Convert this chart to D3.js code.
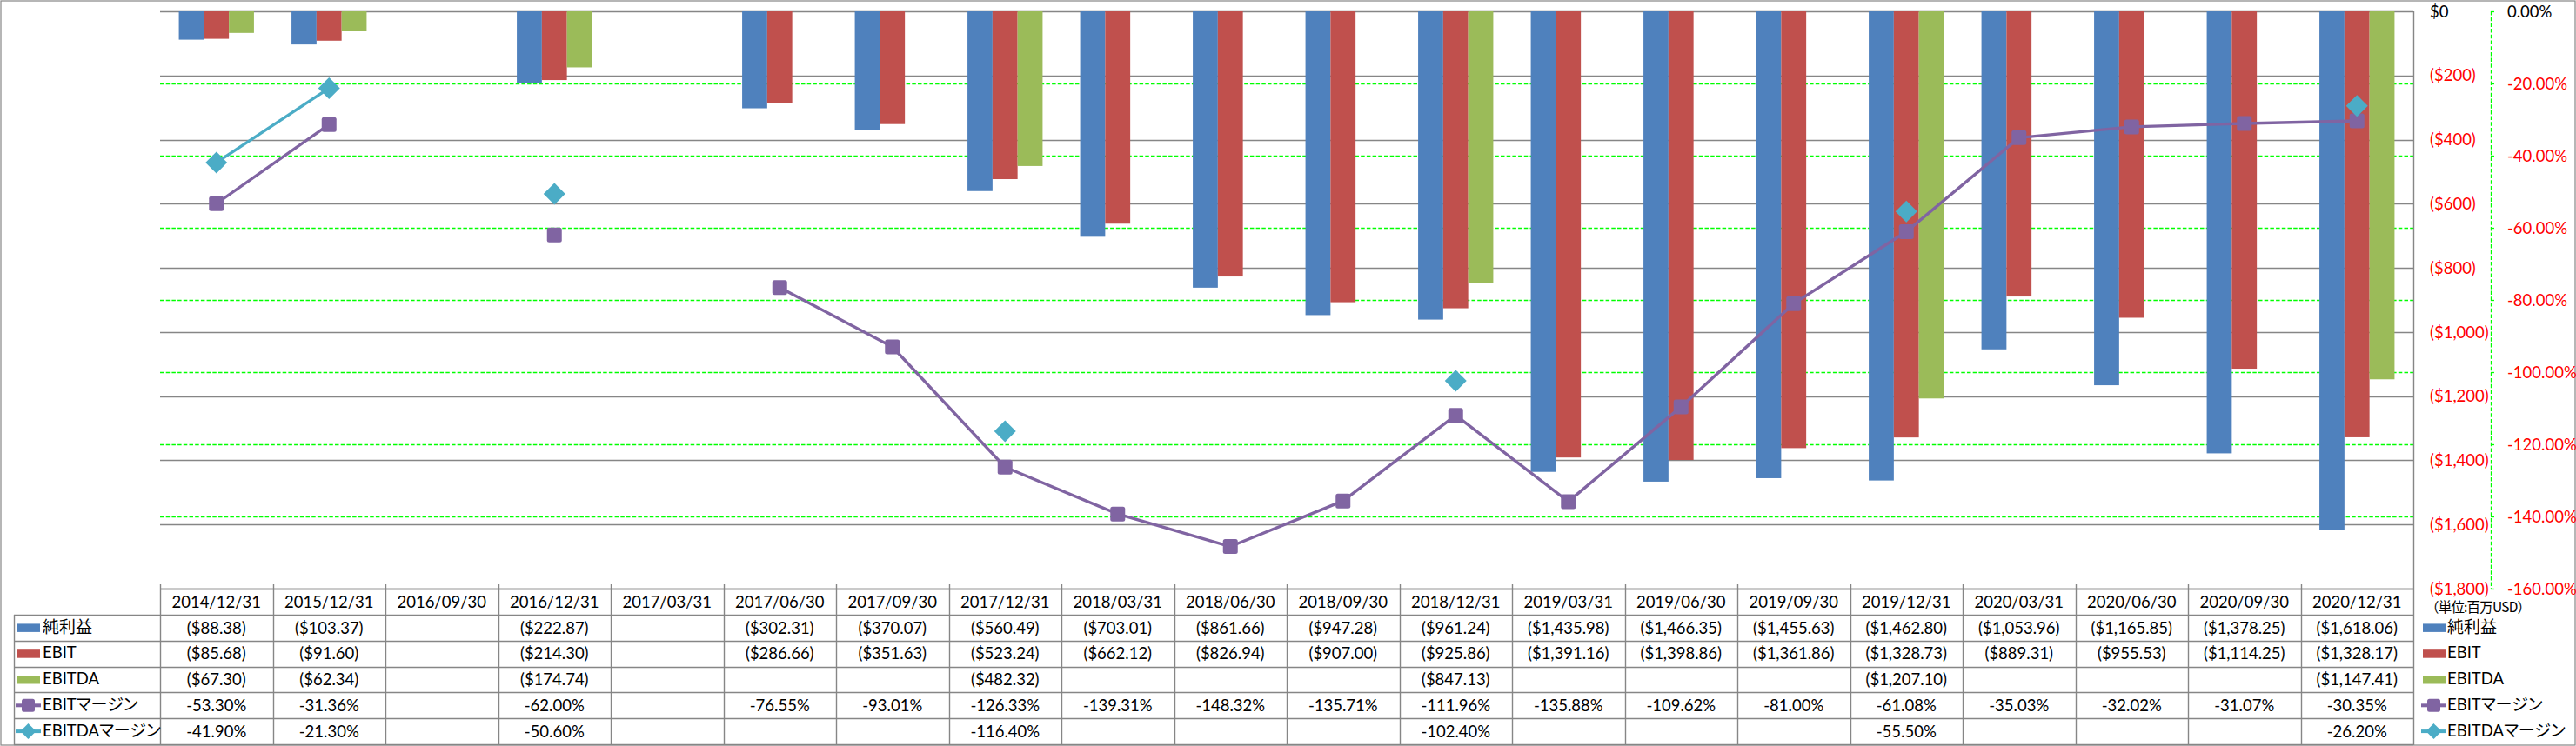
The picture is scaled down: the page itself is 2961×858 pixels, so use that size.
<!DOCTYPE html>
<html><head><meta charset="utf-8">
<script src="https://cdn.jsdelivr.net/npm/d3@7/dist/d3.min.js"></script>
<style>body{margin:0;background:#fff}svg{display:block}.cjk{font-feature-settings:"palt" 1}</style>
</head><body><svg id="c" width="2961" height="858"></svg>
<script>
const categories = ["2014/12/31","2015/12/31","2016/09/30","2016/12/31","2017/03/31","2017/06/30","2017/09/30","2017/12/31","2018/03/31","2018/06/30","2018/09/30","2018/12/31","2019/03/31","2019/06/30","2019/09/30","2019/12/31","2020/03/31","2020/06/30","2020/09/30","2020/12/31"];
const netIncome = [-88.38,-103.37,null,-222.87,null,-302.31,-370.07,-560.49,-703.01,-861.66,-947.28,-961.24,-1435.98,-1466.35,-1455.63,-1462.80,-1053.96,-1165.85,-1378.25,-1618.06];
const ebit = [-85.68,-91.60,null,-214.30,null,-286.66,-351.63,-523.24,-662.12,-826.94,-907.00,-925.86,-1391.16,-1398.86,-1361.86,-1328.73,-889.31,-955.53,-1114.25,-1328.17];
const ebitda = [-67.30,-62.34,null,-174.74,null,null,null,-482.32,null,null,null,-847.13,null,null,null,-1207.10,null,null,null,-1147.41];
const ebitMargin = [-53.30,-31.36,null,-62.00,null,-76.55,-93.01,-126.33,-139.31,-148.32,-135.71,-111.96,-135.88,-109.62,-81.00,-61.08,-35.03,-32.02,-31.07,-30.35];
const ebitdaMargin = [-41.90,-21.30,null,-50.60,null,null,null,-116.40,null,null,null,-102.40,null,null,null,-55.50,null,null,null,-26.20];
const leftTicks = [0,-200,-400,-600,-800,-1000,-1200,-1400,-1600,-1800];
const rightTicks = [0,-20,-40,-60,-80,-100,-120,-140,-160];
const seriesNames = ["純利益","EBIT","EBITDA","EBITマージン","EBITDAマージン"];
const seriesColors = ["#4F81BD","#C0504D","#9BBB59","#8064A2","#4BACC6"];
const unitLabel = "（単位:百万USD）";

const svg = d3.select("#c");
const FONT = "Lato, 'Noto Sans', 'Noto Sans CJK JP', sans-serif";
const CJK = "'Noto Sans CJK JP', sans-serif";
const GRID = "#868686";
const FS = 18.5;

const pLeft = 184, pRight = 2774, pTop = 13, pBottom = 677;
const x0 = d3.scaleBand().domain(categories).range([pLeft, pRight]);
const x1 = d3.scaleBand().domain([0,1,2]).range([0, x0.bandwidth()]).paddingInner(0).paddingOuter(0.75);
const y = d3.scaleLinear().domain([-1800, 0]).range([pBottom, pTop]);
const y2 = d3.scaleLinear().domain([-160, 0]).range([pBottom, pTop]);
const cx = c => x0(c) + x0.bandwidth()/2;

function richText(sel, str, size, cjkSize) {
  const parts = str.split(/([\u3000-\u30ff\u4e00-\u9fff\uff00-\uffef]+)/).filter(s => s.length);
  parts.forEach(p => {
    const isCjk = /[\u3000-\u30ff\u4e00-\u9fff\uff00-\uffef]/.test(p);
    const ts = sel.append("tspan").text(p)
      .attr("font-family", isCjk ? CJK : FONT)
      .attr("font-size", isCjk ? cjkSize : size);
    if (isCjk) ts.attr("class", "cjk");
  });
}

svg.append("rect").attr("x",1).attr("y",1).attr("width",2959).attr("height",856)
  .attr("fill","#fff").attr("stroke",GRID).attr("stroke-width",1.2);

svg.append("g").selectAll("line").data(leftTicks).join("line")
  .attr("x1", pLeft).attr("x2", pRight)
  .attr("y1", d => Math.round(y(d))+0.5).attr("y2", d => Math.round(y(d))+0.5)
  .attr("stroke", GRID).attr("stroke-width", 1.4);
svg.append("g").selectAll("line").data(rightTicks.filter(d => d !== 0 && d !== -160)).join("line")
  .attr("x1", pLeft).attr("x2", pRight)
  .attr("y1", d => Math.round(y2(d))+0.5).attr("y2", d => Math.round(y2(d))+0.5)
  .attr("stroke", "#00FF00").attr("stroke-width", 1.5).attr("stroke-dasharray","4.5,2.2");

const barSeries = [netIncome, ebit, ebitda];
barSeries.forEach((vals, si) => {
  svg.append("g").selectAll("rect").data(categories.map((c,i)=>({c, v: vals[i]})).filter(d => d.v != null))
    .join("rect")
    .attr("x", d => x0(d.c) + x1(si))
    .attr("width", x1.bandwidth())
    .attr("y", y(0))
    .attr("height", d => y(d.v) - y(0))
    .attr("fill", seriesColors[si]);
});

const lineGen = d3.line().defined(d => d.v != null).x(d => cx(d.c)).y(d => y2(d.v));
const lineSeries = [ebitMargin, ebitdaMargin];
lineSeries.forEach((vals, li) => {
  const data = categories.map((c,i)=>({c, v: vals[i]}));
  svg.append("path").datum(data).attr("d", lineGen)
    .attr("fill","none").attr("stroke", seriesColors[3+li]).attr("stroke-width", 3.4)
    .attr("stroke-linejoin","round");
});
function squareMarker(g, x, yy, s, col) {
  g.append("rect").attr("x", x - s/2).attr("y", yy - s/2).attr("width", s).attr("height", s)
    .attr("rx", 2.5).attr("fill", col);
}
function diamondMarker(g, x, yy, r, col) {
  g.append("path").attr("d", `M${x},${yy-r}Q${x+1.5},${yy-r+1.5} ${x+r},${yy}Q${x+r-1.5},${yy+1.5} ${x},${yy+r}Q${x-1.5},${yy+r-1.5} ${x-r},${yy}Q${x-r+1.5},${yy-1.5} ${x},${yy-r}Z`)
    .attr("fill", col);
}
const mg = svg.append("g");
categories.forEach((c,i) => {
  if (ebitMargin[i] != null) squareMarker(mg, cx(c), y2(ebitMargin[i]), 17, seriesColors[3]);
});
categories.forEach((c,i) => {
  if (ebitdaMargin[i] != null) diamondMarker(mg, cx(c), y2(ebitdaMargin[i]), 12.5, seriesColors[4]);
});

svg.append("line").attr("x1", pRight+0.5).attr("x2", pRight+0.5).attr("y1", pTop).attr("y2", 857)
  .attr("stroke", GRID).attr("stroke-width", 1.4);

const fmtMoney = v => v === 0 ? "$0" : "($" + d3.format(",")(Math.abs(v)) + ")";
const fmtPct = v => (v < 0 ? "-" : "") + Math.abs(v).toFixed(2) + "%";
svg.append("g").selectAll("text").data(leftTicks).join("text")
  .attr("x", 2793).attr("y", d => y(d)).attr("dy","0.36em")
  .attr("font-family", FONT).attr("font-size", FS)
  .attr("fill", d => d === 0 ? "#000" : "#FF0000")
  .text(fmtMoney);

svg.append("line").attr("x1", 2863.5).attr("x2", 2863.5).attr("y1", pTop).attr("y2", pBottom)
  .attr("stroke", "#00FF00").attr("stroke-width", 1.3).attr("stroke-dasharray","4.5,2.2");
svg.append("g").selectAll("line").data(rightTicks).join("line")
  .attr("x1", 2863).attr("x2", 2867).attr("y1", d => Math.round(y2(d))+0.5).attr("y2", d => Math.round(y2(d))+0.5)
  .attr("stroke", "#00FF00").attr("stroke-width", 1.3);
svg.append("g").selectAll("text").data(rightTicks).join("text")
  .attr("x", 2882).attr("y", d => y2(d)).attr("dy","0.36em")
  .attr("font-family", FONT).attr("font-size", FS)
  .attr("fill", d => d === 0 ? "#000" : "#FF0000")
  .text(fmtPct);

const rowTops = [707, 736.8, 766.6, 796.4, 826.2, 856];
const tg = svg.append("g");
tg.append("line").attr("x1", pLeft).attr("x2", pRight).attr("y1", 677.5).attr("y2", 677.5).attr("stroke", GRID).attr("stroke-width",1.4);
rowTops.forEach(t => {
  tg.append("line").attr("x1", 16).attr("x2", pRight).attr("y1", Math.round(t)+0.5).attr("y2", Math.round(t)+0.5)
    .attr("stroke", GRID).attr("stroke-width",1.4);
});
tg.append("line").attr("x1", 16.5).attr("x2", 16.5).attr("y1", 707).attr("y2", 857).attr("stroke", GRID).attr("stroke-width",1.4);
categories.forEach(c => {
  const xx = Math.round(x0(c)) + 0.5;
  tg.append("line").attr("x1", xx).attr("x2", xx).attr("y1", 672).attr("y2", 857).attr("stroke", GRID).attr("stroke-width",1.4);
});
tg.selectAll("text.h").data(categories).join("text").attr("class","h")
  .attr("x", c => cx(c)).attr("y", 692).attr("dy","0.36em").attr("text-anchor","middle")
  .attr("font-family", FONT).attr("font-size", FS).attr("fill","#000").text(c => c);
const fmtVal = v => "($" + d3.format(",.2f")(Math.abs(v)) + ")";
const tableSeries = [netIncome, ebit, ebitda, ebitMargin, ebitdaMargin];
tableSeries.forEach((vals, ri) => {
  const ymid = (rowTops[ri] + rowTops[ri+1]) / 2;
  categories.forEach((c, i) => {
    if (vals[i] == null) return;
    tg.append("text").attr("x", cx(c)).attr("y", ymid).attr("dy","0.36em").attr("text-anchor","middle")
      .attr("font-family", FONT).attr("font-size", FS).attr("fill","#000")
      .text(ri < 3 ? fmtVal(vals[i]) : fmtPct(vals[i]));
  });
});

function legendKey(g, x, ymid, si) {
  const col = seriesColors[si];
  if (si < 3) {
    g.append("rect").attr("x", x).attr("y", ymid - 4.5).attr("width", 26).attr("height", 9.5).attr("fill", col);
  } else {
    g.append("line").attr("x1", x - 2).attr("x2", x + 27).attr("y1", ymid).attr("y2", ymid)
      .attr("stroke", col).attr("stroke-width", 4);
    if (si === 3) squareMarker(g, x + 12.5, ymid, 15, col);
    else diamondMarker(g, x + 12.5, ymid, 9, col);
  }
}
seriesNames.forEach((name, si) => {
  const ymid = (rowTops[si] + rowTops[si+1]) / 2;
  legendKey(tg, 20, ymid, si);
  const t = tg.append("text").attr("x", 49).attr("y", ymid).attr("dy","0.36em").attr("fill","#000");
  richText(t, name, 18.5, 19);
  legendKey(svg, 2785, ymid, si);
  const t2 = svg.append("text").attr("x", 2813).attr("y", ymid).attr("dy","0.36em").attr("fill","#000");
  richText(t2, name, 18.5, 19);
});
svg.append("text").attr("x", 2788).attr("y", 698).attr("dy","0.36em").attr("fill","#000")
  .attr("font-family", CJK).attr("font-size", 15.5)
  .attr("textLength", 121).attr("lengthAdjust", "spacing").text(unitLabel);
</script></body></html>
